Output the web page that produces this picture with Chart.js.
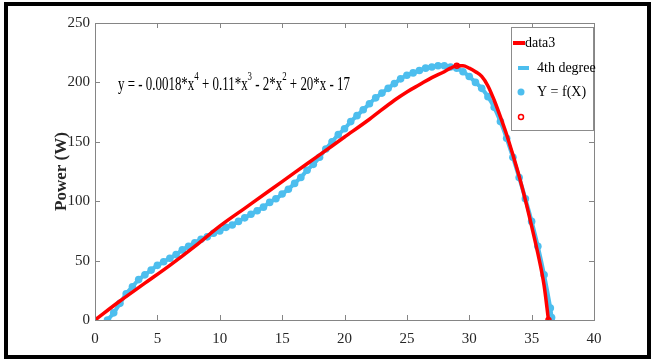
<!DOCTYPE html>
<html>
<head>
<meta charset="utf-8">
<script src="https://cdn.jsdelivr.net/npm/chart.js@4"></script>
<style>
  html, body { margin: 0; background: #fff; }
  canvas { display: block; }
</style>
</head>
<body>
<canvas id="chart" width="654" height="360"></canvas>
<script>
// red measured curve ("data3")
const redX = [0, 2, 4, 6, 8, 10, 12, 14, 16, 18, 20, 22, 24, 25, 26, 27, 28, 28.5, 29, 29.5, 30, 30.5, 31, 31.5, 32, 32.5, 33, 33.5, 34, 34.5, 35, 35.5, 36, 36.35];
const redY = [0, 16, 31, 46, 62, 79, 94, 109, 124, 139, 154, 169, 185, 192, 198, 204, 209, 212, 214, 214, 212, 209, 205, 197, 185, 171, 156, 139, 121, 101, 79, 56, 29, 0];

// blue fitted points (4th degree / Y = f(X))
const blueX = [1, 1.5, 2, 2.5, 3, 3.5, 4, 4.5, 5, 5.5, 6, 6.5, 7, 7.5, 8, 8.5, 9, 9.5, 10, 10.5, 11, 11.5, 12, 12.5, 13, 13.5, 14, 14.5, 15, 15.5, 16, 16.5, 17, 17.5, 18, 18.5, 19, 19.5, 20, 20.5, 21, 21.5, 22, 22.5, 23, 23.5, 24, 24.5, 25, 25.5, 26, 26.5, 27, 27.5, 28, 28.5, 29, 29.5, 30, 30.5, 31, 31.5, 32, 32.5, 33, 33.5, 34, 34.5, 35, 35.5, 36, 36.5, 36.6];
const blueY = [0, 6, 14, 22, 28, 34, 38, 42, 46, 49, 52, 55, 59, 62, 65, 68, 70, 73, 75, 78, 80, 83, 86, 89, 92, 95, 99, 102, 106, 110, 115, 120, 126, 131, 137, 144, 150, 156, 161, 167, 172, 177, 182, 187, 191, 195, 199, 203, 206, 208, 210, 212, 213, 214, 214, 213, 212, 209, 205, 200, 195, 188, 179, 167, 153, 137, 120, 102, 83, 62, 38, 10, 2];

// red circle markers
const markX = [0, 29, 36.35];
const markY = [0, 214, 0];

const xTicks = [0, 5, 10, 15, 20, 25, 30, 35, 40];
const yTicks = [0, 50, 100, 150, 200, 250];

const RED = "#ff0000";
const BLUE = "#4dbeee";
const SERIF = "'Liberation Serif', 'Times New Roman', serif";

const pts = (xs, ys) => xs.map((x, i) => ({x, y: ys[i]}));

function drawEquation(ctx) {
  const parts = [["y = - 0.0018*x", 0], ["4", 1], [" + 0.11*x", 0], ["3", 1], [" - 2*x", 0], ["2", 1], [" + 20*x - 17", 0]];
  const big = "19px " + SERIF, small = "13px " + SERIF;
  let w = 0;
  parts.forEach(([t, s]) => { ctx.font = s ? small : big; w += ctx.measureText(t).width; });
  ctx.save();
  ctx.translate(118, 90);
  ctx.scale(232 / w, 1);
  ctx.fillStyle = "#000";
  ctx.textBaseline = "alphabetic";
  let x = 0;
  parts.forEach(([t, s]) => {
    ctx.font = s ? small : big;
    ctx.fillText(t, x, s ? -10 : 0);
    x += ctx.measureText(t).width;
  });
  ctx.restore();
}

function drawLegend(ctx) {
  ctx.save();
  ctx.fillStyle = "#fff";
  ctx.fillRect(511, 27, 82, 103);
  ctx.strokeStyle = "#8c8c8c";
  ctx.lineWidth = 1;
  ctx.strokeRect(511.5, 27.5, 82, 103);

  ctx.font = "14px " + SERIF;
  ctx.fillStyle = "#000";
  ctx.textBaseline = "middle";

  ctx.strokeStyle = RED; ctx.lineWidth = 4;
  ctx.beginPath(); ctx.moveTo(513, 43); ctx.lineTo(525, 43); ctx.stroke();
  ctx.fillText("data3", 525, 43);

  ctx.strokeStyle = BLUE; ctx.lineWidth = 4;
  ctx.beginPath(); ctx.moveTo(518, 68); ctx.lineTo(529, 68); ctx.stroke();
  ctx.fillText("4th degree", 537, 68);

  ctx.fillStyle = BLUE;
  ctx.beginPath(); ctx.arc(521, 92, 3.5, 0, Math.PI * 2); ctx.fill();
  ctx.fillStyle = "#000";
  ctx.fillText("Y = f(X)", 537, 92);

  ctx.strokeStyle = RED; ctx.lineWidth = 1.5;
  ctx.beginPath(); ctx.arc(521, 117, 2.5, 0, Math.PI * 2); ctx.stroke();
  ctx.restore();
}

const decor = {
  id: "decor",
  afterDatasetsDraw(chart) {
    const {ctx, chartArea: a, scales: {x, y}} = chart;
    ctx.save();
    ctx.strokeStyle = "#858585";
    ctx.lineWidth = 1;
    ctx.strokeRect(a.left + 0.5, a.top + 0.5, a.right - a.left, a.bottom - a.top);
    ctx.beginPath();
    xTicks.forEach(v => {
      const px = Math.round(x.getPixelForValue(v)) + 0.5;
      ctx.moveTo(px, a.bottom); ctx.lineTo(px, a.bottom - 5);
      ctx.moveTo(px, a.top); ctx.lineTo(px, a.top + 5);
    });
    yTicks.forEach(v => {
      const py = Math.round(y.getPixelForValue(v)) + 0.5;
      ctx.moveTo(a.left, py); ctx.lineTo(a.left + 5, py);
      ctx.moveTo(a.right, py); ctx.lineTo(a.right - 5, py);
    });
    ctx.stroke();
    ctx.restore();

    drawEquation(ctx);
    drawLegend(ctx);

    // outer frame
    ctx.save();
    ctx.strokeStyle = "#000";
    ctx.lineWidth = 4;
    ctx.strokeRect(6, 4, 643, 353);
    ctx.restore();
  }
};

new Chart(document.getElementById("chart"), {
  type: "scatter",
  data: {
    datasets: [
      {label: "data3", data: pts(redX, redY), showLine: true, borderColor: RED, borderWidth: 3.5,
       pointRadius: 0, cubicInterpolationMode: "monotone", order: 1},
      {label: "4th degree", data: pts(blueX, blueY), showLine: true, borderColor: BLUE, borderWidth: 4,
       pointRadius: 0, tension: 0.3, order: 3},
      {label: "Y = f(X)", data: pts(blueX, blueY), showLine: false, backgroundColor: BLUE,
       borderWidth: 0, pointRadius: 3.8, order: 2},
      {label: "", data: pts(markX, markY), showLine: false, borderColor: RED, borderWidth: 1.5,
       backgroundColor: "rgba(255,255,255,0)", pointRadius: 2.5, order: 0},
    ],
  },
  options: {
    responsive: false,
    animation: false,
    events: [],
    layout: {padding: {left: 51, right: 60, top: 23, bottom: 0}},
    plugins: {legend: {display: false}, tooltip: {enabled: false}},
    scales: {
      x: {
        min: 0, max: 40,
        afterBuildTicks: s => { s.ticks = xTicks.map(value => ({value})); },
        afterFit: s => { s.height = 40; },
        grid: {display: false, drawTicks: false},
        border: {display: false},
        ticks: {color: "#262626", font: {family: SERIF, size: 15}, padding: 10},
      },
      y: {
        min: 0, max: 250,
        afterBuildTicks: s => { s.ticks = yTicks.map(value => ({value})); },
        afterFit: s => { s.width = 44; },
        grid: {display: false, drawTicks: false},
        border: {display: false},
        ticks: {color: "#262626", font: {family: SERIF, size: 15}, padding: 5},
        title: {display: true, text: "Power (W)", color: "#262626",
                font: {family: SERIF, size: 17, weight: "bold"}, padding: {top: 0, bottom: 0}},
      },
    },
  },
  plugins: [decor],
});
</script>
</body>
</html>
